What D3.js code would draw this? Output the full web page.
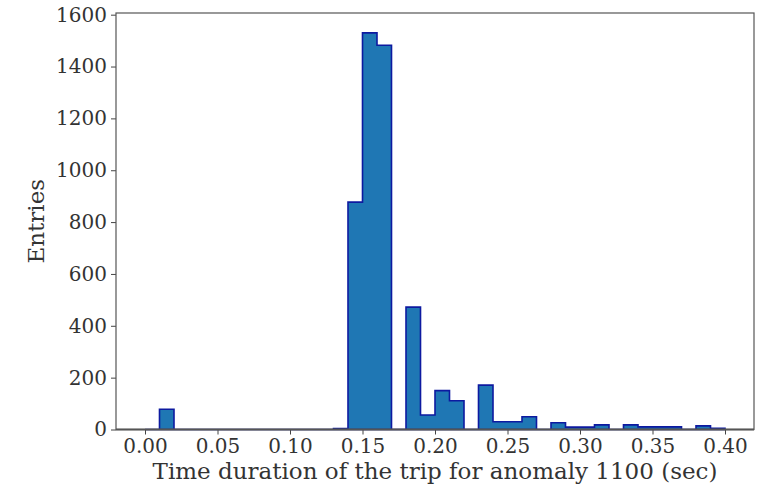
<!DOCTYPE html>
<html>
<head>
<meta charset="utf-8">
<script src="https://cdn.jsdelivr.net/npm/d3@7"></script>
<style>
  html, body { margin: 0; padding: 0; background: #fff; }
  svg { display: block; }
  text { font-family: "DejaVu Serif", serif; fill: #333; }
</style>
</head>
<body>
<svg id="chart" width="770" height="490"></svg>
<script>
// ---- data ----
const binLefts = [0.00,0.01,0.02,0.03,0.04,0.05,0.06,0.07,0.08,0.09,
                  0.10,0.11,0.12,0.13,0.14,0.15,0.16,0.17,0.18,0.19,
                  0.20,0.21,0.22,0.23,0.24,0.25,0.26,0.27,0.28,0.29,
                  0.30,0.31,0.32,0.33,0.34,0.35,0.36,0.37,0.38,0.39];
const binWidth = 0.01;
const counts = [0,78,0,0,0,0,0,0,0,0,
                0,0,0,4,877,1530,1482,0,472,56,
                150,111,0,171,30,30,49,0,26,9,
                9,18,0,18,10,10,10,0,14,5];
const xTicks = [0.00,0.05,0.10,0.15,0.20,0.25,0.30,0.35,0.40];
const yTicks = [0,200,400,600,800,1000,1200,1400,1600];
const xLabel = "Time duration of the trip for anomaly 1100 (sec)";
const yLabel = "Entries";

// ---- layout ----
const L = 116, R = 754, T = 13, B = 429.5;
const svg = d3.select("#chart");

const xMin = binLefts[0], xMax = binLefts[binLefts.length-1] + binWidth;
const pad = (xMax - xMin) * 0.05;
const x = d3.scaleLinear().domain([xMin - pad, xMax + pad]).range([L, R]);
const y = d3.scaleLinear().domain([0, d3.max(counts) * 1.05]).range([B, T]);

// step polygon
const pts = [[xMin, 0]];
binLefts.forEach((b, i) => {
  pts.push([b, counts[i]]);
  pts.push([b + binWidth, counts[i]]);
});
pts.push([xMax, 0]);

const line = d3.line().x(d => x(d[0])).y(d => y(d[1]));
svg.append("path")
  .attr("d", line(pts) + "Z")
  .attr("fill", "#1f77b4")
  .attr("stroke", "#0d1aa0")
  .attr("stroke-width", 1.6)
  .attr("stroke-linejoin", "miter");

// axes
const xAxis = d3.axisBottom(x).tickValues(xTicks).tickFormat(d3.format(".2f")).tickSize(5).tickPadding(4);
const yAxis = d3.axisLeft(y).tickValues(yTicks).tickFormat(d3.format("d")).tickSize(5).tickPadding(4);

const gx = svg.append("g").attr("transform", `translate(0,${B})`).call(xAxis);
const gy = svg.append("g").attr("transform", `translate(${L},0)`).call(yAxis);
[gx, gy].forEach(g => {
  g.select(".domain").remove();
  g.selectAll(".tick line").attr("stroke", "#444");
  g.selectAll(".tick text").attr("font-family", "DejaVu Serif").attr("font-size", 20).attr("fill", "#333");
});

// frame (spines drawn above the histogram, hiding its baseline)
svg.append("rect")
  .attr("x", L).attr("y", T).attr("width", R - L).attr("height", B - T)
  .attr("fill", "none").attr("stroke", "#555").attr("stroke-width", 1.2);
svg.append("line")
  .attr("x1", L).attr("x2", R).attr("y1", B).attr("y2", B)
  .attr("stroke", "#555").attr("stroke-width", 2);

// labels
svg.append("text")
  .attr("x", (L + R) / 2).attr("y", 479)
  .attr("text-anchor", "middle").attr("font-size", 23)
  .text(xLabel);
svg.append("text")
  .attr("transform", `translate(44,${(T + B) / 2}) rotate(-90)`)
  .attr("text-anchor", "middle").attr("font-size", 23)
  .text(yLabel);
</script>
</body>
</html>
